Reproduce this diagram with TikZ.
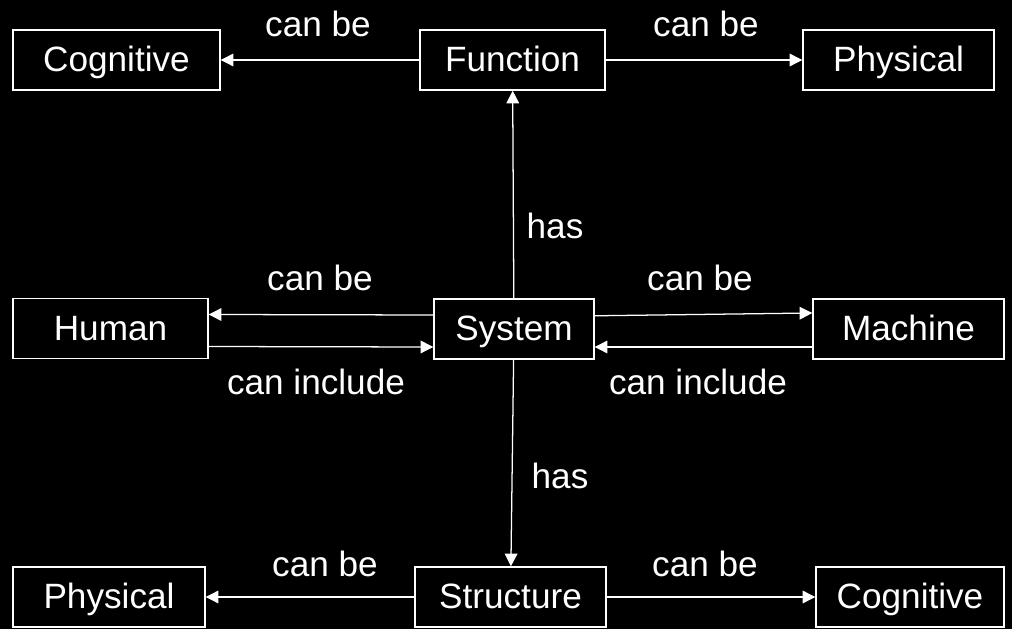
\documentclass[tikz,border=0pt]{standalone}
\usepackage{fontspec}
\setmainfont{Liberation Sans}
\usepackage{tikz}
\usetikzlibrary{arrows.meta}
\usetikzlibrary{positioning}

\begin{document}
\begin{tikzpicture}[x=0.025cm, y=-0.025cm,
  box/.style={draw=white, line width=1pt, text=white, minimum height=1.5cm, inner sep=0pt, text height=20pt, text depth=3pt, font=\fontsize{25}{29}\selectfont},
  lbl/.style={text=white, inner sep=0pt, font=\fontsize{25}{29}\selectfont},
  arr/.style={draw=white, line width=0.9pt, -{Triangle[length=9pt,width=9pt]}}]
\fill[black] (0,0) rectangle (1012,629);
% top row
\node[box, minimum width=5.175cm] (cogTop) at (116.5,60) {Cognitive};
\node[box, minimum width=4.625cm] (function) at (512.5,60) {Function};
\node[box, minimum width=4.775cm] (physTop) at (898.5,60) {Physical};
% middle row
\node[box, minimum width=4.875cm] (human) at (110.5,328.5) {Human};
\node[box, minimum width=4.0cm] (system) at (514,329) {System};
\node[box, minimum width=4.775cm] (machine) at (908.5,329) {Machine};
% bottom row
\node[box, minimum width=4.8cm] (physBot) at (109,597) {Physical};
\node[box, minimum width=4.775cm] (structure) at (510.5,597) {Structure};
\node[box, minimum width=4.7cm] (cogBot) at (910,597) {Cognitive};
% connectors
\draw[arr] (function) -- (cogTop);
\draw[arr] (function) -- (physTop);
\draw[arr] (system) -- (function);
\draw[arr] (system) -- (structure);
\draw[arr] ([yshift=0.35cm]system.west) -- ([yshift=0.35cm]human.east);
\draw[arr] ([yshift=-0.45cm]human.east) -- ([yshift=-0.45cm]system.west);
\draw[arr] ([yshift=0.33cm]system.east) -- ([yshift=0.4cm]machine.west);
\draw[arr] ([yshift=-0.45cm]machine.west) -- ([yshift=-0.45cm]system.east);
\draw[arr] (structure) -- (physBot);
\draw[arr] (structure) -- (cogBot);
% labels
\node[lbl] (lblCanA) at (318,24) {can be};
\node[lbl] (lblCanB) at (706,24) {can be};
\node[lbl] (lblHasA) at (555,226) {has};
\node[lbl] (lblCanC) at (320,278) {can be};
\node[lbl] (lblCanD) at (700,278) {can be};
\node[lbl] (lblIncA) at (316,382) {can include};
\node[lbl] (lblIncB) at (698,382) {can include};
\node[lbl] (lblHasB) at (560,476) {has};
\node[lbl] (lblCanE) at (325,564) {can be};
\node[lbl] (lblCanF) at (705,564) {can be};
\end{tikzpicture}
\end{document}
